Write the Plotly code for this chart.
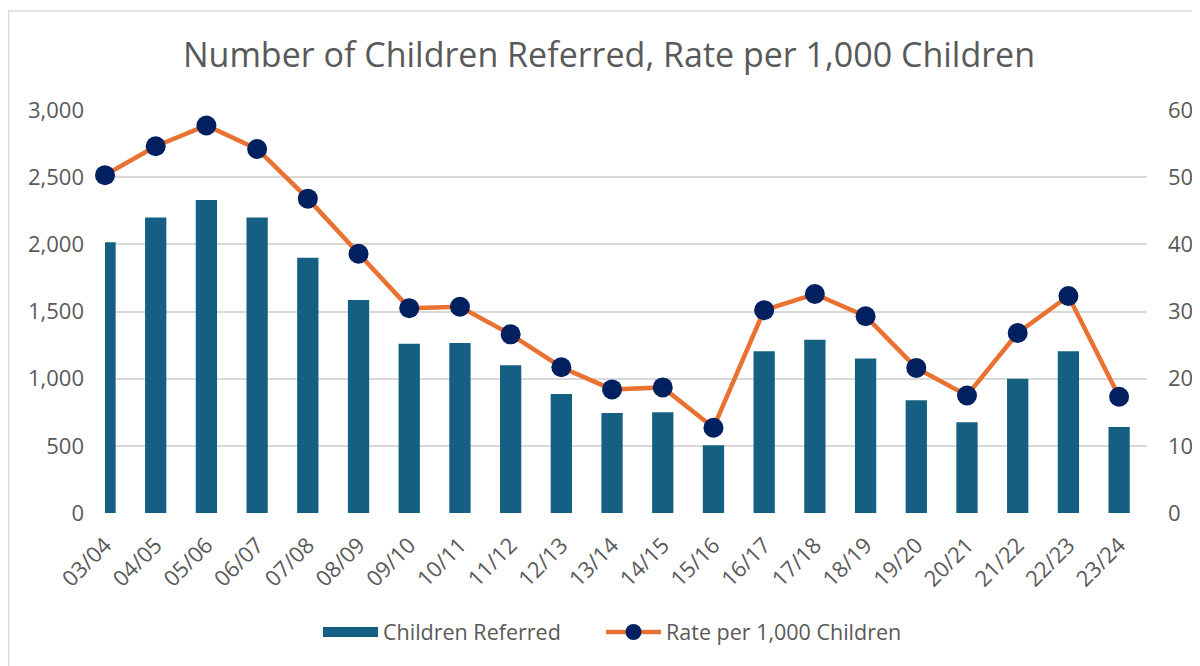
import plotly.graph_objects as go

categories = ["03/04", "04/05", "05/06", "06/07", "07/08", "08/09", "09/10", "10/11",
              "11/12", "12/13", "13/14", "14/15", "15/16", "16/17", "17/18", "18/19",
              "19/20", "20/21", "21/22", "22/23", "23/24"]
children_referred = [2015, 2200, 2330, 2200, 1900, 1585, 1260, 1265, 1100, 885, 745,
                     750, 505, 1205, 1290, 1150, 840, 675, 1000, 1205, 640]
rate_per_1000 = [50.3, 54.6, 57.7, 54.2, 46.8, 38.6, 30.5, 30.7, 26.6, 21.7, 18.4,
                 18.7, 12.7, 30.2, 32.6, 29.3, 21.6, 17.5, 26.8, 32.3, 17.3]

title_text = "Number of Children Referred, Rate per 1,000 Children"
left_ticks = [0, 500, 1000, 1500, 2000, 2500, 3000]
right_ticks = [0, 10, 20, 30, 40, 50, 60]

FONT = "Open Sans"
GREY = "#595959"
BAR_COLOR = "#156082"

# page body has an 8px default margin: figure is sized/offset to compensate
W, H = 1192, 658

fig = go.Figure()
fig.add_trace(go.Bar(
    x=categories, y=children_referred, name="Children Referred",
    marker=dict(color=BAR_COLOR, line=dict(width=0)), width=0.42,
    yaxis="y", showlegend=False,
))
# legend-only entry giving the wide rectangular swatch of the bar series
fig.add_trace(go.Scatter(
    x=[None], y=[None], name="Children Referred", mode="lines",
    line=dict(color=BAR_COLOR, width=14), yaxis="y", legend="legend",
))
fig.add_trace(go.Scatter(
    x=categories, y=rate_per_1000, name="Rate per 1,000 Children",
    mode="lines+markers", yaxis="y2", legend="legend2",
    line=dict(color="#E97132", width=4.5),
    marker=dict(color="#002060", size=20, line=dict(width=0)),
    cliponaxis=False,
))

legend_common = dict(orientation="h", xref="container", xanchor="left",
                     yref="container", y=1-624/H, yanchor="middle",
                     font=dict(size=21.5, color=GREY), itemwidth=55,
                     bgcolor="rgba(0,0,0,0)")

fig.update_layout(
    width=W, height=H,
    margin=dict(l=97, r=53, t=102, b=153, autoexpand=False),
    paper_bgcolor="white", plot_bgcolor="white",
    font=dict(family=FONT, color=GREY, size=20),
    title=dict(text=title_text, x=601/W, xref="container", xanchor="center",
               y=1-47/H, yref="container", yanchor="middle",
               font=dict(family=FONT, size=34, color=GREY)),
    xaxis=dict(type="category", range=[0, 20.55], tickangle=-45,
               showgrid=False, showline=False, ticks="", zeroline=False,
               automargin=False, ticklabelstandoff=14,
               tickfont=dict(size=22, color=GREY)),
    yaxis=dict(range=[0, 3000], tickvals=left_ticks, tickformat=",d",
               showgrid=True, gridcolor="#D9D9D9", gridwidth=1.5,
               zeroline=False, showline=False, ticks="", automargin=False,
               ticklabelstandoff=20,
               tickfont=dict(size=22, color=GREY)),
    yaxis2=dict(range=[0, 60], tickvals=right_ticks, overlaying="y", side="right",
                showgrid=False, zeroline=False, showline=False, ticks="",
                automargin=False, ticklabelstandoff=20,
                tickfont=dict(size=22, color=GREY)),
    legend=dict(x=310/W, **legend_common),
    legend2=dict(x=593/W, **legend_common),
    shapes=[dict(type="rect", xref="paper", yref="paper",
                 x0=(0.5-97)/1042, x1=1.2, y0=-0.6, y1=(505-3)/403,
                 line=dict(color="#D9D9D9", width=1.5), fillcolor="rgba(0,0,0,0)",
                 layer="below")],
)

fig.write_html("out.html")
